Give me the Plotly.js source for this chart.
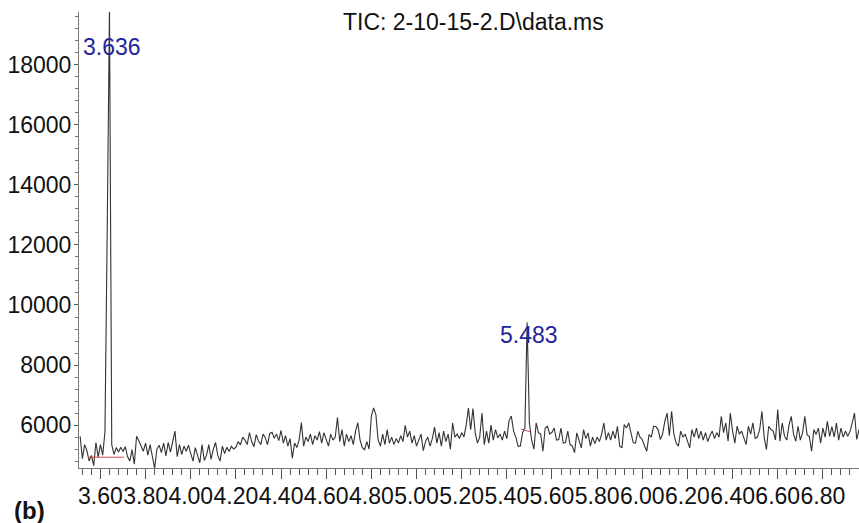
<!DOCTYPE html>
<html><head><meta charset="utf-8">
<script src="https://cdn.plot.ly/plotly-3.0.1.min.js"></script>
<style>html,body{margin:0;padding:0;background:#fff;}#chart{width:859px;height:523px;}</style>
</head><body><div id="chart"></div>
<script>
// Scan timing of the TIC (minutes)
const scanStart = 3.51;
const scanStep = 0.01;

// Total ion current abundance, one value per scan (3.51 ... 6.96 min)
const ticAbundance = [
  5630, 4880, 5350, 5150, 4800, 4990, 4650, 5420, 4930, 5350,
  5000, 5780, 12500, 19900, 5350, 5020, 5250, 5100, 5260, 5120,
  5280, 4950, 4800, 5180, 4700, 5630, 5480, 5300, 5130, 5400,
  5000, 5350, 5000, 4560, 5200, 5330, 5080, 5400, 4970, 5420,
  5100, 5500, 5800, 4950, 5350, 5020, 5300, 5130, 5330, 5050,
  4800, 5250, 4960, 4740, 5350, 4820, 5000, 5350, 4860, 5200,
  5420, 4980, 4800, 5300, 5050, 5260, 5120, 5290, 5200, 5260,
  5450, 5340, 5600, 5500, 5350, 5750, 5450, 5280, 5680, 5470,
  5350, 5700, 5580, 5350, 5720, 5760, 5560, 5700, 5480, 5820,
  5400, 5650, 5300, 5550, 4900, 5400, 5250, 5500, 6080, 5300,
  5600, 5450, 5700, 5350, 5650, 5500, 5780, 5400, 5750, 5550,
  5300, 5700, 5500, 5600, 6250, 5450, 5850, 5300, 5700, 5450,
  5650, 5350, 5800, 6080, 5500, 5250, 5180, 5450, 5200, 6300,
  6570, 6350, 5500, 5300, 5700, 5350, 5850, 5400, 5600, 5350,
  5550, 5400, 5650, 5450, 5990, 5600, 5800, 5400, 5650, 5300,
  5500, 5700, 5150, 5450, 5600, 5300, 5550, 5930, 5400, 5750,
  5300, 5800, 5450, 5700, 5200, 6070, 5600, 5700, 5550, 5750,
  5600, 6000, 6570, 5850, 6550, 5740, 5400, 5600, 6400, 5350,
  5800, 5400, 6000, 5500, 5850, 5570, 5700, 5500, 5800, 5550,
  6150, 6300, 5800, 5600, 5300, 5300, 5750, 5900, 9420, 6070,
  5500, 5200, 6070, 5750, 5700, 5130, 5900, 5960, 5700, 5760,
  5900, 5500, 5520, 5900, 5400, 5420, 5800, 5350, 5300, 5080,
  5740, 5450, 5240, 5850, 5550, 5740, 5300, 5600, 5380, 5600,
  5450, 5700, 6070, 5500, 5750, 5500, 5800, 5550, 5960, 5300,
  5240, 6017, 5900, 6072, 5680, 5410, 5400, 5795, 5600, 5520,
  5300, 5130, 5684, 5600, 5960, 5950, 5850, 5520, 5700, 6128,
  6400, 5650, 6460, 5700, 5400, 5300, 5800, 5600, 5700, 5450,
  5240, 5850, 5600, 5900, 5550, 5800, 5500, 5750, 5450, 5650,
  5800, 5550, 5750, 5600, 6290, 5750, 6070, 5460, 6400, 5800,
  5400, 5960, 5700, 5800, 5600, 5350, 5960, 5700, 6072, 5560,
  5600, 5850, 6460, 5600, 5185, 5960, 5850, 5800, 5500, 6516,
  5460, 6070, 5630, 5500, 6000, 6290, 5700, 5460, 5960, 5500,
  5740, 6290, 5680, 5620, 5130, 5850, 5690, 5900, 5400, 5900,
  5600, 6128, 5620, 5950, 5600, 6070, 5500, 5900, 5600, 5800,
  5630, 5780, 6072, 6400, 5520, 5850
];

// Integration baselines (red)
const base1Time = [3.545, 3.704];
const base1Abund = [4930, 4930];
const base2Time = [5.462, 5.506];
const base2Abund = [5870, 5770];

// Peak retention-time labels
const peakLabels = ['3.636', '5.483'];
const peakLabelTime = [3.651, 5.498];
const peakLabelAbund = [18597, 8995];

// Axis ticks
const xTickVals = [3.6, 3.8, 4.0, 4.2, 4.4, 4.6, 4.8, 5.0, 5.2, 5.4, 5.6, 5.8, 6.0, 6.2, 6.4, 6.6, 6.8];
const xTickText = ['3.60','3.80','4.00','4.20','4.40','4.60','4.80','5.00','5.20','5.40','5.60','5.80','6.00','6.20','6.40','6.60','6.80'];
const yTickVals = [6000, 8000, 10000, 12000, 14000, 16000, 18000];
const yTickText = ['6000','8000','10000','12000','14000','16000','18000'];

const titleText = 'TIC: 2-10-15-2.D\\data.ms';
const panelLabel = '(b)';

const FONT = '"Liberation Sans", Arial, Helvetica, sans-serif';

const traces = [
  {
    type: 'scatter', mode: 'lines',
    x0: scanStart, dx: scanStep, y: ticAbundance,
    line: {color: '#333333', width: 1.1},
    hoverinfo: 'skip'
  },
  {
    type: 'scatter', mode: 'lines',
    x: base1Time, y: base1Abund,
    line: {color: '#d24a4a', width: 1}, hoverinfo: 'skip'
  },
  {
    type: 'scatter', mode: 'lines',
    x: base2Time, y: base2Abund,
    line: {color: '#d24a4a', width: 1}, hoverinfo: 'skip'
  }
];

const annotations = peakLabels.map((t, i) => ({
  x: peakLabelTime[i], y: peakLabelAbund[i], xref: 'x', yref: 'y',
  text: t, showarrow: false, xanchor: 'center', yanchor: 'middle',
  font: {family: FONT, size: 23, color: '#23239b'}
}));
annotations.push({
  x: 0.5064, y: 0.978, xref: 'paper', yref: 'paper',
  text: titleText, showarrow: false, xanchor: 'center', yanchor: 'middle',
  font: {family: FONT, size: 23, color: '#111'}
});
annotations.push({
  x: -0.064, y: -0.093, xref: 'paper', yref: 'paper',
  text: '<b>' + panelLabel + '</b>', showarrow: false, xanchor: 'center', yanchor: 'middle',
  font: {family: FONT, size: 24, color: '#111'}
});

const layout = {
  width: 859, height: 523,
  margin: {l: 79, r: 0, t: 12, b: 55},
  paper_bgcolor: '#ffffff', plot_bgcolor: '#ffffff',
  showlegend: false,
  font: {family: FONT, size: 23, color: '#111'},
  xaxis: {
    range: [3.505, 6.96], automargin: false,
    tickvals: xTickVals, ticktext: xTickText, tickangle: 0,
    ticks: 'outside', ticklen: 10, tickwidth: 1, tickcolor: '#555',
    ticklabelstandoff: -3,
    minor: {dtick: 0.04, tick0: 3.6, ticks: 'outside', ticklen: 6, tickwidth: 1, tickcolor: '#555'},
    showline: true, linecolor: '#777', linewidth: 1,
    showgrid: false, zeroline: false,
    tickfont: {family: FONT, size: 23, color: '#111'}
  },
  yaxis: {
    range: [4570, 19760], automargin: false,
    tickvals: yTickVals, ticktext: yTickText,
    ticks: 'outside', ticklen: 4, tickwidth: 1, tickcolor: '#555',
    ticklabelstandoff: -2,
    minor: {dtick: 400, tick0: 0, ticks: 'outside', ticklen: 3, tickwidth: 1, tickcolor: '#777'},
    showline: true, linecolor: '#777', linewidth: 1,
    showgrid: false, zeroline: false,
    tickfont: {family: FONT, size: 23, color: '#111'}
  },
  annotations: annotations
};

Plotly.newPlot('chart', traces, layout, {staticPlot: true, displayModeBar: false});
</script>
</body></html>
